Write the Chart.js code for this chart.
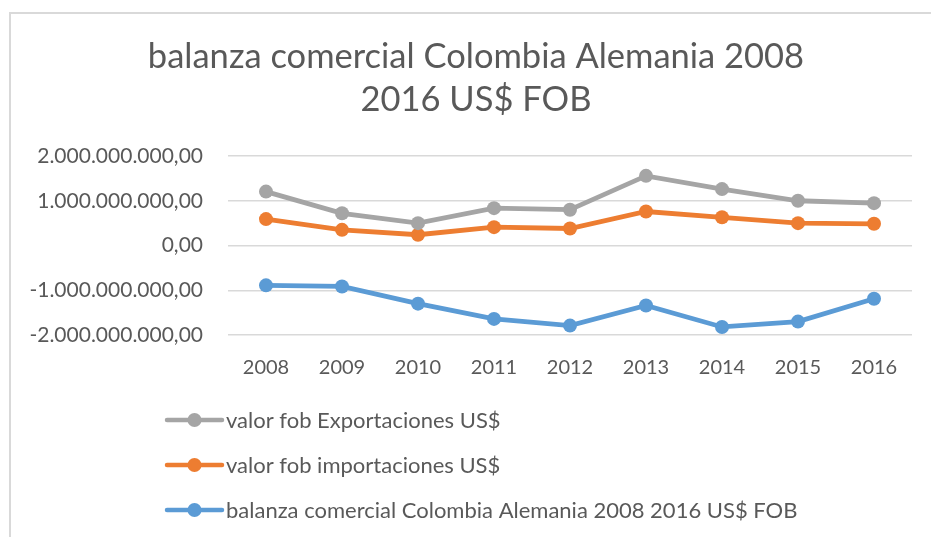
<!DOCTYPE html>
<html>
<head>
<meta charset="utf-8">
<script src="https://cdn.jsdelivr.net/npm/chart.js@4"></script>
<style>
  html, body { margin: 0; padding: 0; background: #fff; overflow: hidden; }
  #frame {
    position: absolute; left: 9px; top: 12px; width: 1000px; height: 600px;
    border-left: 2px solid #d9d9d9; border-top: 2px solid #d9d9d9;
  }
  #wrap { position: absolute; left: 0; top: 0; width: 931px; height: 537px; }
</style>
</head>
<body>
<div id="frame"></div>
<div id="wrap"><canvas id="chart" width="931" height="537"></canvas></div>
<script>
const years = ["2008", "2009", "2010", "2011", "2012", "2013", "2014", "2015", "2016"];
const exportaciones = [1205000000, 720000000, 500000000, 835000000, 800000000, 1556000000, 1260000000, 1000000000, 946000000];
const importaciones = [590000000, 350000000, 240000000, 410000000, 380000000, 760000000, 630000000, 500000000, 485000000];
const balanza = [-890000000, -915000000, -1300000000, -1640000000, -1790000000, -1340000000, -1820000000, -1700000000, -1190000000];
const yTicks = [-2000000000, -1000000000, 0, 1000000000, 2000000000];
const titleLines = ["balanza comercial Colombia Alemania 2008", "2016 US$ FOB"];

const FONT = "Lato, 'Open Sans', sans-serif";
const TEXT = "#595959";

function formatNumber(v) {
  const neg = v < 0;
  const s = Math.abs(Math.round(v)).toString().replace(/\B(?=(\d{3})+(?!\d))/g, ".");
  return (neg ? "-" : "") + s + ",00";
}

// título centrado sobre el área del gráfico de Excel (no sobre el canvas)
const excelTitle = {
  id: "excelTitle",
  afterDraw(chart) {
    const ctx = chart.ctx;
    ctx.save();
    ctx.font = "34.5px " + FONT;
    ctx.fillStyle = TEXT;
    ctx.textAlign = "center";
    ctx.textBaseline = "middle";
    titleLines.forEach((t, i) => ctx.fillText(t, 476, 57 + i * 43));
    ctx.restore();
  }
};

// leyenda vertical debajo del gráfico, como en Excel
const stackedLegend = {
  id: "stackedLegend",
  afterDraw(chart) {
    const ctx = chart.ctx;
    ctx.save();
    ctx.font = "22px " + FONT;
    ctx.textBaseline = "middle";
    chart.data.datasets.forEach((ds, i) => {
      const y = 420 + i * 45;
      ctx.strokeStyle = ds.borderColor;
      ctx.lineWidth = 4.5;
      ctx.lineCap = "round";
      ctx.beginPath();
      ctx.moveTo(167, y);
      ctx.lineTo(222, y);
      ctx.stroke();
      ctx.fillStyle = ds.borderColor;
      ctx.beginPath();
      ctx.arc(194.5, y, 7, 0, Math.PI * 2);
      ctx.fill();
      ctx.fillStyle = TEXT;
      ctx.fillText(ds.label, 226, y + 1);
    });
    ctx.restore();
  }
};

function serie(label, data, color) {
  return {
    label: label,
    data: data,
    borderColor: color,
    backgroundColor: color,
    borderWidth: 4.8,
    pointRadius: 7,
    pointHoverRadius: 7,
    pointBorderWidth: 0,
    tension: 0,
  };
}

new Chart(document.getElementById("chart"), {
  type: "line",
  data: {
    labels: years,
    datasets: [
      serie("valor fob Exportaciones US$", exportaciones, "#A5A5A5"),
      serie("valor fob importaciones US$", importaciones, "#ED7D31"),
      serie("balanza comercial Colombia Alemania 2008 2016 US$ FOB", balanza, "#5B9BD5"),
    ],
  },
  options: {
    responsive: false,
    animation: false,
    layout: { padding: { left: 0, right: 19, top: 156, bottom: 147 } },
    plugins: {
      legend: { display: false },
      tooltip: { enabled: false },
      title: { display: false },
    },
    scales: {
      x: {
        offset: true,
        grid: { display: false },
        border: { display: false },
        ticks: { color: TEXT, font: { family: FONT, size: 20 }, padding: 13 },
        afterFit(scale) { scale.height = 55; },
      },
      y: {
        min: -2000000000,
        max: 2000000000,
        afterBuildTicks(scale) { scale.ticks = yTicks.map((v) => ({ value: v })); },
        grid: { color: "#d9d9d9", lineWidth: 1.5, drawTicks: false },
        border: { display: false },
        ticks: {
          color: TEXT,
          font: { family: FONT, size: 21 },
          padding: 25,
          callback: (v) => formatNumber(v),
        },
        afterFit(scale) { scale.width = 228; },
      },
    },
  },
  plugins: [excelTitle, stackedLegend],
});
</script>
</body>
</html>
